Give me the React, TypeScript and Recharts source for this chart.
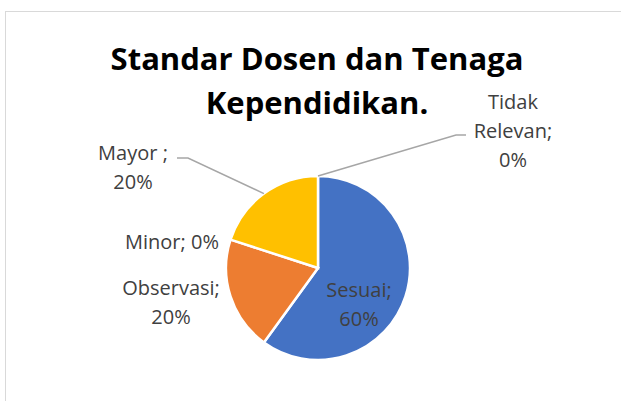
import { Cell, Pie, PieChart } from "recharts";

const categories = ["Sesuai", "Observasi", "Minor", "Mayor", "Tidak Relevan"];
const values = [60, 20, 0, 20, 0];
const colors = ["#4472C4", "#ED7D31", "#A5A5A5", "#FFC000", "#5B9BD5"];
// how each data label is worded / wrapped
const labelWords = [["Sesuai;"], ["Observasi;"], ["Minor;"], ["Mayor ;"], ["Tidak", "Relevan;"]];
const labelInline = [false, false, true, false, false];

const data = categories.map((name, i) => ({ name, value: values[i] }));
const total = values.reduce((a, b) => a + b, 0);

// label placement relative to pie centre (Excel dragged labels)
const LABEL_POS: { dx: number; dy: number; leader?: [number, number][] }[] = [
  { dx: 41, dy: 36 },
  { dx: -147, dy: 34 },
  { dx: -146, dy: -27 },
  { dx: -185, dy: -101, leader: [[-130, -110], [-141, -110]] },
  { dx: 195, dy: -138, leader: [[138, -133], [148, -133]] },
];

const RAD = Math.PI / 180;
const LINE_H = 29;
const FONT = "'Open Sans', 'Noto Sans', sans-serif";

function renderLabel(props: any) {
  const { cx, cy, midAngle, outerRadius, index } = props;
  const pos = LABEL_POS[index];
  const pct = `${Math.round((values[index] / total) * 100)}%`;
  const lines = labelInline[index]
    ? [[...labelWords[index], pct].join(" ")]
    : [...labelWords[index], pct];
  const x = cx + pos.dx;
  const y = cy + pos.dy;
  let leader = null;
  if (pos.leader) {
    const sx = cx + outerRadius * Math.cos(-midAngle * RAD);
    const sy = cy + outerRadius * Math.sin(-midAngle * RAD);
    const pts = [[sx, sy], ...pos.leader.map(([a, b]) => [cx + a, cy + b])];
    leader = (
      <polyline
        points={pts.map((p) => p.join(",")).join(" ")}
        fill="none"
        stroke="#A6A6A6"
        strokeWidth={1.5}
      />
    );
  }
  return (
    <g key={`lbl-${index}`}>
      {leader}
      {lines.map((t, i) => (
        <text
          key={i}
          x={x}
          y={y + (i - (lines.length - 1) / 2) * LINE_H}
          textAnchor="middle"
          dominantBaseline="central"
          fill="#404040"
          fontSize={20}
          fontFamily={FONT}
        >
          {t}
        </text>
      ))}
    </g>
  );
}

export default function App() {
  return (
    <div
      style={{
        position: "absolute",
        left: 0,
        top: 0,
        width: 621,
        height: 401,
        overflow: "hidden",
        background: "#fff",
      }}
    >
      <div
        style={{
          position: "absolute",
          left: 5,
          top: 11,
          width: 700,
          height: 500,
          border: "1.5px solid #D9D9D9",
        }}
      />
      <div
        style={{
          position: "absolute",
          left: 0,
          top: 36,
          width: 634,
          textAlign: "center",
          fontFamily: FONT,
          fontWeight: 700,
          fontSize: 31,
          lineHeight: "44px",
          color: "#000",
        }}
      >
        Standar Dosen dan Tenaga
        <br />
        Kependidikan.
      </div>
      <PieChart width={621} height={401} margin={{ top: 0, right: 0, bottom: 0, left: 0 }} style={{ position: "absolute", left: 0, top: 0 }}>
        <Pie
          data={data}
          dataKey="value"
          nameKey="name"
          cx={318}
          cy={268}
          outerRadius={92}
          startAngle={90}
          endAngle={-270}
          stroke="#fff"
          strokeWidth={2.5}
          label={renderLabel}
          labelLine={false}
          isAnimationActive={false}
        >
          {data.map((d, i) => (
            <Cell key={d.name} fill={colors[i]} />
          ))}
        </Pie>
      </PieChart>
    </div>
  );
}
